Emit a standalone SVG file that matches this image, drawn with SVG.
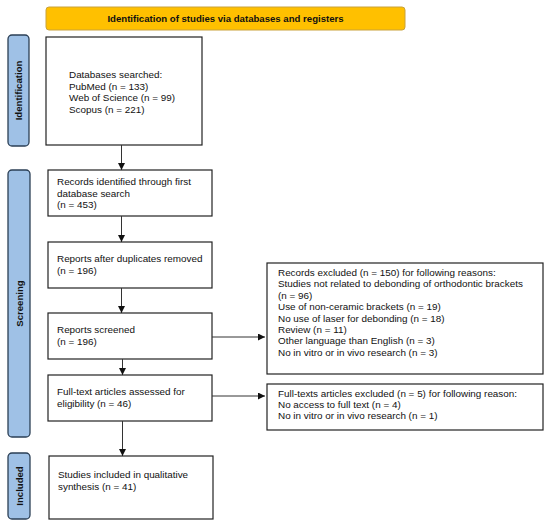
<svg xmlns="http://www.w3.org/2000/svg" width="550" height="527" viewBox="0 0 550 527">
<style>
.bx{fill:#fff;stroke:#222;stroke-width:1.2}
.side{fill:#9fc1e6;stroke:#2b3f55;stroke-width:1.3}
.t{font-family:"Liberation Sans",Arial,sans-serif;font-size:9.9px;fill:#111}
.sl{font-family:"Liberation Sans",Arial,sans-serif;font-size:9.6px;font-weight:bold;fill:#111}
.ln{stroke:#333;stroke-width:1;fill:none}
</style>
<defs>
<marker id="ah" viewBox="0 0 10 10" refX="10" refY="5" markerWidth="7" markerHeight="7" orient="auto" markerUnits="userSpaceOnUse">
<path d="M0,0 L10,5 L0,10 Z" fill="#111"/>
</marker>
</defs>
<rect width="550" height="527" fill="#fff"/>
<g id="banner">
<rect x="46" y="7" width="359" height="23" rx="3" fill="#ffc000" stroke="#c9a23a" stroke-width="1"/>
<text class="sl" x="225.5" y="21.5" text-anchor="middle">Identification of studies via databases and registers</text>
</g>
<g id="side-identification">
<rect class="side" x="8" y="35" width="21" height="111" rx="4"/>
<text class="sl" transform="translate(22,90.5) rotate(-90)" text-anchor="middle">Identification</text>
</g>
<g id="side-screening">
<rect class="side" x="8" y="170" width="22" height="267" rx="4"/>
<text class="sl" transform="translate(22.5,303.5) rotate(-90)" text-anchor="middle">Screening</text>
</g>
<g id="side-included">
<rect class="side" x="8" y="453" width="22" height="66" rx="4"/>
<text class="sl" transform="translate(22.5,486) rotate(-90)" text-anchor="middle">Included</text>
</g>
<g id="n-databases">
<rect class="bx" x="46" y="37" width="156" height="108"/>
<text class="t" x="69" y="78">Databases searched:<tspan x="69" dy="11.5">PubMed (n = 133)</tspan><tspan x="69" dy="11.5">Web of Science (n = 99)</tspan><tspan x="69" dy="11.5">Scopus (n = 221)</tspan></text>
</g>
<g id="n-records">
<rect class="bx" x="48" y="170" width="164" height="46"/>
<text class="t" x="57" y="185">Records identified through first<tspan x="57" dy="11.5">database search</tspan><tspan x="57" dy="11.5">(n = 453)</tspan></text>
</g>
<g id="n-dup">
<rect class="bx" x="48" y="242" width="164" height="46"/>
<text class="t" x="57" y="262">Reports after duplicates removed<tspan x="57" dy="11.5">(n = 196)</tspan></text>
</g>
<g id="n-screened">
<rect class="bx" x="48" y="313" width="164" height="46"/>
<text class="t" x="57" y="333">Reports screened<tspan x="57" dy="11.5">(n = 196)</tspan></text>
</g>
<g id="n-fulltext">
<rect class="bx" x="48" y="375" width="164" height="46"/>
<text class="t" x="57" y="395">Full-text articles assessed for<tspan x="57" dy="11.5">eligibility (n = 46)</tspan></text>
</g>
<g id="n-included">
<rect class="bx" x="49" y="456" width="164" height="63"/>
<text class="t" x="58" y="478">Studies included in qualitative<tspan x="58" dy="12">synthesis (n = 41)</tspan></text>
</g>
<g id="n-excluded1">
<rect class="bx" x="267" y="263" width="276" height="111"/>
<text class="t" x="278" y="276">Records excluded (n = 150) for following reasons:<tspan x="278" dy="11.4">Studies not related to debonding of orthodontic brackets</tspan><tspan x="278" dy="11.4">(n = 96)</tspan><tspan x="278" dy="11.4">Use of non-ceramic brackets (n = 19)</tspan><tspan x="278" dy="11.4">No use of laser for debonding (n = 18)</tspan><tspan x="278" dy="11.4">Review (n = 11)</tspan><tspan x="278" dy="11.4">Other language than English (n = 3)</tspan><tspan x="278" dy="11.4">No in vitro or in vivo research (n = 3)</tspan></text>
</g>
<g id="n-excluded2">
<rect class="bx" x="267" y="384" width="276" height="46"/>
<text class="t" x="278" y="397">Full-texts articles excluded (n = 5) for following reason:<tspan x="278" dy="11.2">No access to full text (n = 4)</tspan><tspan x="278" dy="11.2">No in vitro or in vivo research (n = 1)</tspan></text>
</g>
<g id="connectors">
<line class="ln" x1="121.5" y1="145" x2="121.5" y2="170" marker-end="url(#ah)"/>
<line class="ln" x1="121.5" y1="216" x2="121.5" y2="242" marker-end="url(#ah)"/>
<line class="ln" x1="121.5" y1="288" x2="121.5" y2="313" marker-end="url(#ah)"/>
<line class="ln" x1="122.5" y1="359" x2="122.5" y2="375" marker-end="url(#ah)"/>
<line class="ln" x1="122.5" y1="421" x2="122.5" y2="456" marker-end="url(#ah)"/>
<line class="ln" x1="212" y1="337" x2="265" y2="337" marker-end="url(#ah)"/>
<line class="ln" x1="212" y1="396" x2="265" y2="396" marker-end="url(#ah)"/>
</g>
</svg>
